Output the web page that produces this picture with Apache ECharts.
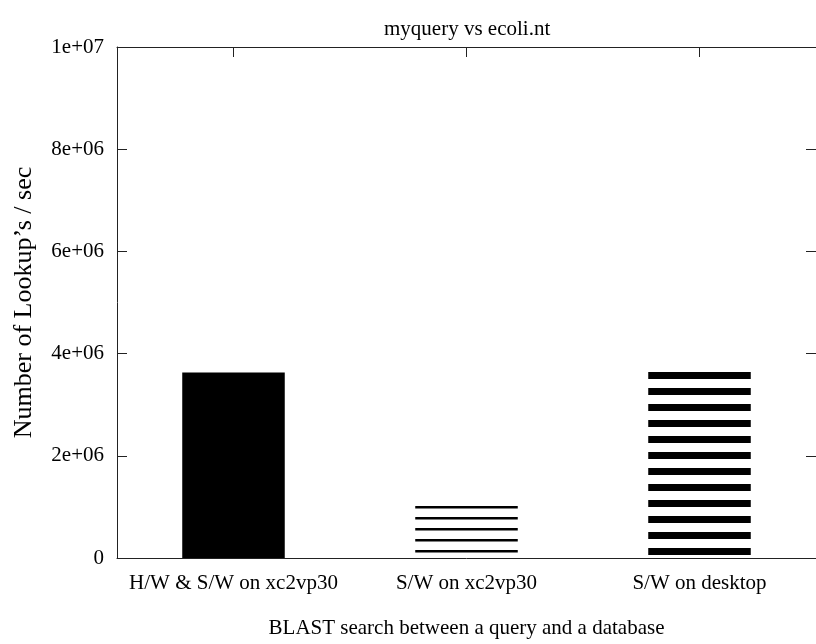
<!DOCTYPE html>
<html>
<head>
<meta charset="utf-8">
<script src="https://cdn.jsdelivr.net/npm/echarts@6/dist/echarts.min.js"></script>
<style>
html,body{margin:0;padding:0;background:#fff;}
#chart{width:816px;height:644px;}
</style>
</head>
<body>
<div id="chart"></div>
<script>
// ---- data ----
const categories = ['H/W & S/W on xc2vp30', 'S/W on xc2vp30', 'S/W on desktop'];
const lookupsPerSec = [3.63e6, 1.03e6, 3.66e6];
const yTickValues = [0, 2e6, 4e6, 6e6, 8e6, 1e7];
const yTickLabels = ['0', '2e+06', '4e+06', '6e+06', '8e+06', '1e+07'];
const titleText = 'myquery vs ecoli.nt';
const xAxisTitle = 'BLAST search between a query and a database';
const yAxisTitle = 'Number of Lookup\u2019s / sec';

// ---- fill patterns (horizontal stripes) ----
function stripes(period, start, thickness) {
  const c = document.createElement('canvas');
  c.width = 8; c.height = period;
  const ctx = c.getContext('2d');
  ctx.fillStyle = '#fff';
  ctx.fillRect(0, 0, 8, period);
  ctx.fillStyle = '#000';
  ctx.fillRect(0, start, 8, thickness);
  return { image: c, repeat: 'repeat' };
}
const fills = ['#000', stripes(11, 0, 2.5), stripes(16, 4, 7)];

const FONT = '"Liberation Serif", "Times New Roman", serif';
const axisColor = '#222';

const chart = echarts.init(document.getElementById('chart'), null, { renderer: 'canvas' });
chart.setOption({
  animation: false,
  backgroundColor: '#fff',
  title: {
    text: titleText,
    left: 384,
    top: 19,
    padding: 0,
    textStyle: { fontFamily: FONT, fontSize: 21, fontWeight: 'normal', color: '#000' }
  },
  grid: { left: 117, top: 47, bottom: 85, right: -3, containLabel: false },
  xAxis: [
    {
      type: 'category',
      data: categories,
      position: 'bottom',
      axisLine: { show: true, onZero: false, lineStyle: { color: axisColor, width: 1 } },
      axisTick: { show: false },
      axisLabel: { interval: 0, fontFamily: FONT, fontSize: 21, color: '#000', margin: 15 },
      name: xAxisTitle,
      nameLocation: 'middle',
      nameGap: 60,
      nameTextStyle: { fontFamily: FONT, fontSize: 21, color: '#000' },
      splitLine: { show: false }
    },
    {
      type: 'category',
      data: categories,
      position: 'top',
      axisLine: { show: true, onZero: false, lineStyle: { color: axisColor, width: 1 } },
      axisTick: { show: true, inside: true, length: 10, alignWithLabel: true, interval: 0, lineStyle: { color: axisColor } },
      axisLabel: { show: false },
      splitLine: { show: false }
    }
  ],
  yAxis: [
    {
      type: 'value',
      min: 0, max: 1e7, interval: 2e6,
      position: 'left',
      axisLine: { show: true, onZero: false, lineStyle: { color: axisColor, width: 1 } },
      axisTick: { show: true, inside: true, length: 10, lineStyle: { color: axisColor } },
      axisLabel: {
        fontFamily: FONT, fontSize: 21, color: '#000', margin: 13,
        formatter: function (v) {
          const i = yTickValues.indexOf(v);
          return i >= 0 ? yTickLabels[i] : '';
        }
      },
      splitLine: { show: false },
      name: yAxisTitle,
      nameLocation: 'middle',
      nameGap: 80,
      nameRotate: 90,
      nameTextStyle: { fontFamily: FONT, fontSize: 26, color: '#000' }
    },
    {
      type: 'value',
      min: 0, max: 1e7, interval: 2e6,
      position: 'right',
      axisLine: { show: true, onZero: false, lineStyle: { color: axisColor, width: 1 } },
      axisTick: { show: true, inside: true, length: 10, lineStyle: { color: axisColor } },
      axisLabel: { show: false },
      splitLine: { show: false }
    }
  ],
  series: [
    {
      type: 'bar',
      xAxisIndex: 0,
      yAxisIndex: 0,
      barWidth: '44%',
      data: lookupsPerSec.map(function (v, i) {
        return { value: v, itemStyle: { color: fills[i] } };
      })
    }
  ]
});
</script>
</body>
</html>
